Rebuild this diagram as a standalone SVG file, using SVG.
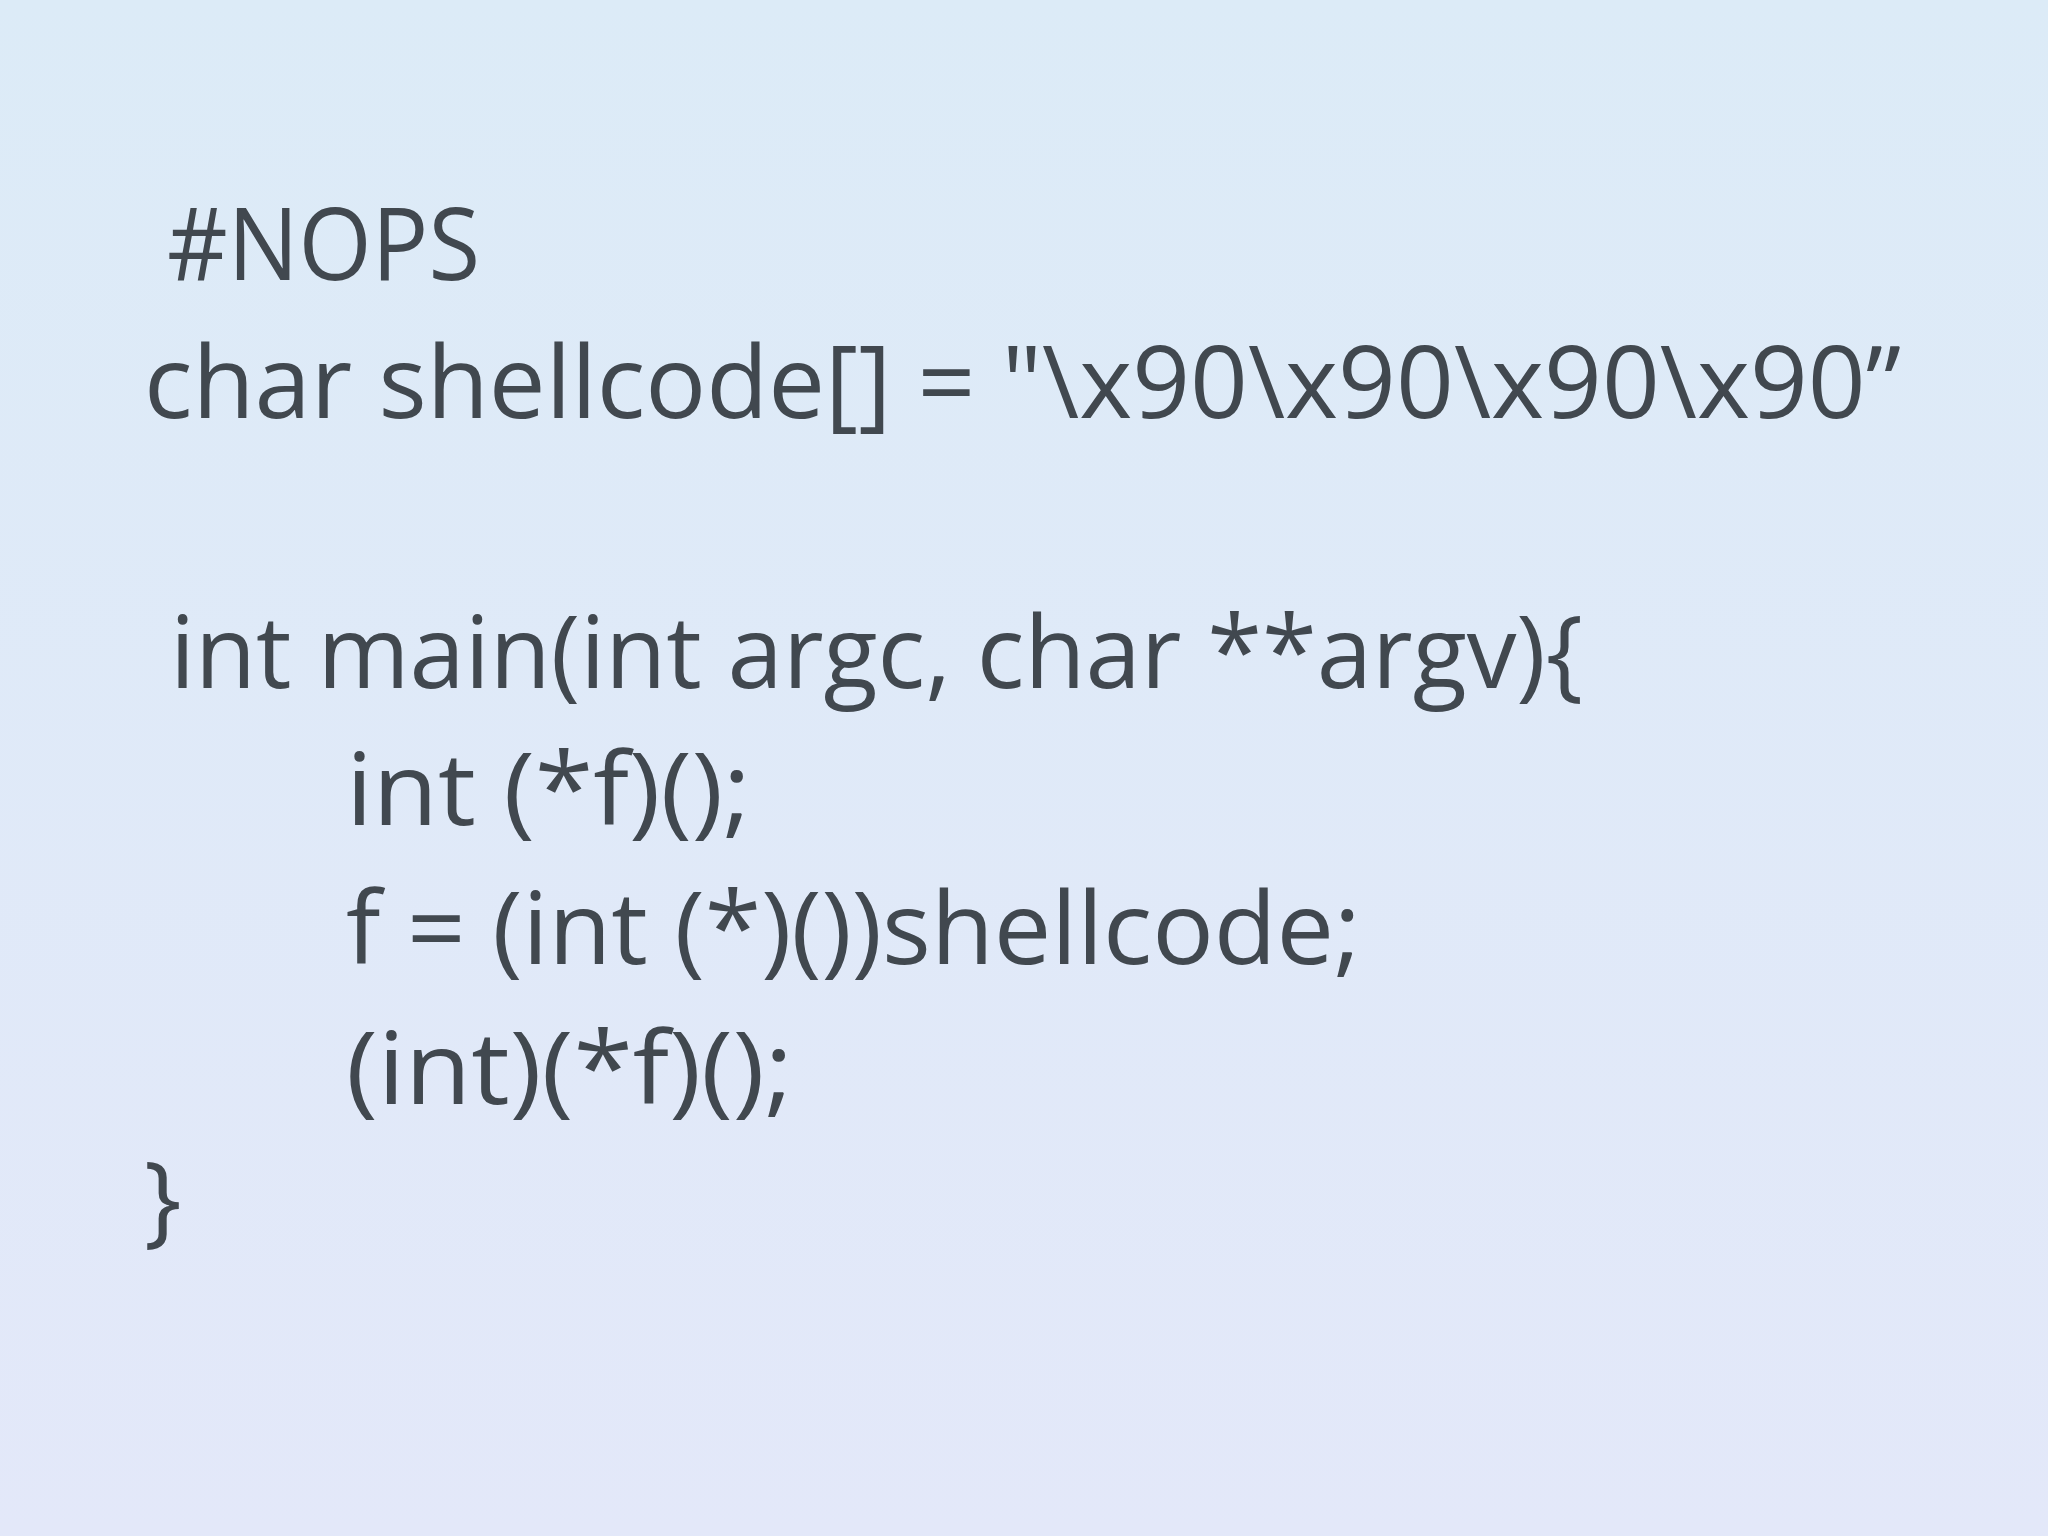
<svg xmlns="http://www.w3.org/2000/svg" width="2048" height="1536" viewBox="0 0 2048 1536">
<defs>
<linearGradient id="bg" x1="0" y1="0" x2="0" y2="1">
<stop offset="0" stop-color="#dcebf7"/>
<stop offset="1" stop-color="#e3e8f9"/>
</linearGradient>
<style>
text{font-family:"Open Sans","Noto Sans",sans-serif;font-size:100px;fill:#41484f}
</style>
</defs>
<rect width="2048" height="1536" fill="url(#bg)"/>
<g id="code">
<text x="167" y="280" textLength="313" lengthAdjust="spacingAndGlyphs">#NOPS</text>
<text x="144" y="418" textLength="1757" lengthAdjust="spacingAndGlyphs">char shellcode[] = "\x90\x90\x90\x90”</text>
<text x="170" y="688" textLength="1413" lengthAdjust="spacingAndGlyphs">int main(int argc, char **argv){</text>
<text x="346" y="825" textLength="405" lengthAdjust="spacingAndGlyphs">int (*f)();</text>
<text x="346" y="964" textLength="1015" lengthAdjust="spacingAndGlyphs">f = (int (*)())shellcode;</text>
<text x="346" y="1104" textLength="447" lengthAdjust="spacingAndGlyphs">(int)(*f)();</text>
<text x="144" y="1234">}</text>
</g>
</svg>
